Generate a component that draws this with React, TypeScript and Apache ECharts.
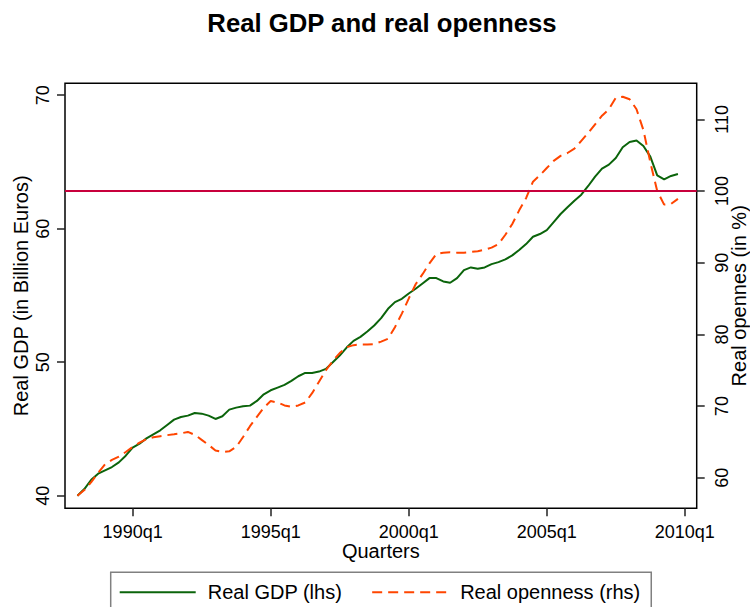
import React, { useEffect, useRef } from "react";
import * as echarts from "echarts";

const startYear = 1988; // first quarter: 1988q1
const gdp = [
  40.0, 40.5, 41.2, 41.65, 41.9, 42.15, 42.5, 43.0, 43.6, 43.9,
  44.3, 44.6, 44.9, 45.3, 45.7, 45.9, 46.0, 46.2, 46.15, 46.0,
  45.75, 45.95, 46.45, 46.6, 46.7, 46.75, 47.1, 47.6, 47.9, 48.1,
  48.3, 48.6, 48.95, 49.2, 49.2, 49.3, 49.5, 50.0, 50.5, 51.1,
  51.6, 51.9, 52.3, 52.75, 53.3, 54.0, 54.5, 54.75, 55.15, 55.5,
  55.9, 56.3, 56.3, 56.05, 55.95, 56.3, 56.9, 57.1, 57.0, 57.1,
  57.35, 57.5, 57.7, 58.0, 58.4, 58.85, 59.4, 59.6, 59.9, 60.5,
  61.1, 61.6, 62.1, 62.55, 63.2, 63.9, 64.5, 64.8, 65.3, 66.1,
  66.5, 66.6, 66.2, 65.4, 64.0, 63.7, 63.95, 64.1,
];
const openness = [
  57.5, 58.3, 59.4, 60.7, 61.9, 62.5, 62.95, 63.6, 64.3, 64.9,
  65.4, 65.65, 65.8, 65.95, 66.07, 66.2, 66.4, 66.0, 65.3, 64.6,
  63.8, 63.6, 63.7, 64.3, 65.7, 67.2, 68.5, 69.8, 70.7, 70.5,
  70.1, 69.9, 70.1, 70.5, 71.8, 73.4, 75.0, 76.3, 77.4, 78.2,
  78.5, 78.6, 78.6, 78.65, 79.0, 79.4, 81.0, 82.9, 85.0, 87.0,
  88.4, 89.9, 91.2, 91.4, 91.45, 91.4, 91.4, 91.5, 91.6, 91.8,
  92.1, 92.6, 93.9, 95.4, 97.3, 99.0, 101.3, 102.2, 103.2, 104.2,
  104.9, 105.3, 105.9, 107.0, 108.1, 109.3, 110.5, 111.4, 113.0, 113.15,
  112.8, 111.4, 108.5, 104.0, 100.0, 98.1, 98.2, 98.9,
];
const xTicks = [1990, 1995, 2000, 2005, 2010];
const leftTicks = [40, 50, 60, 70];
const rightTicks = [60, 70, 80, 90, 100, 110];
const refLine = 100;

const FONT = "'Liberation Sans', Arial, Helvetica, sans-serif";

export default function App() {
  const ref = useRef<HTMLDivElement>(null);
  useEffect(() => {
    if (!ref.current) return;
    const chart = echarts.init(ref.current, null, { renderer: "svg" });
    const t = (i: number) => startYear + i / 4;
    const gdpData = gdp.map((v, i) => [t(i), v]);
    const openData = openness.map((v, i) => [t(i), v]);
    const tickStyle = { show: true, length: 8, inside: false, lineStyle: { color: "#222", width: 1.5 } };
    const option: any = {
      animation: false,
      backgroundColor: "#fff",
      textStyle: { fontFamily: FONT },
      title: {
        text: "Real GDP and real openness",
        left: 377,
        top: 5,
        textAlign: "center",
        textStyle: { fontFamily: FONT, fontSize: 25.7, fontWeight: "bold", color: "#000" },
      },
      grid: {
        left: 65,
        right: 53.3,
        top: 83.3,
        bottom: 98.7,
        containLabel: false,
        outerBoundsMode: "none",
        show: true,
        borderColor: "#000",
        borderWidth: 1.5,
        backgroundColor: "#fff",
      },
      legend: {
        left: 110.7,
        top: 572.3,
        orient: "horizontal",
        padding: [10, 11, 10, 8],
        itemGap: 29,
        itemWidth: 76,
        itemHeight: 20,
        borderColor: "#808080",
        borderWidth: 1.5,
        backgroundColor: "#fff",
        itemStyle: { opacity: 0 },
        textStyle: { fontFamily: FONT, fontSize: 20, color: "#000", padding: [0, 0, 0, 7] },
        data: ["Real GDP (lhs)", "Real openness (rhs)"],
      },
      xAxis: {
        type: "value",
        min: 1987.55,
        max: 2010.43,
        name: "Quarters",
        nameLocation: "middle",
        nameGap: 33,
        nameMoveOverlap: false,
        nameTextStyle: { fontFamily: FONT, fontSize: 20, color: "#000" },
        axisLine: { show: false },
        axisTick: { ...tickStyle, customValues: xTicks },
        axisLabel: {
          customValues: xTicks,
          margin: 15,
          fontFamily: FONT,
          fontSize: 18,
          color: "#000",
          formatter: (v: number) => `${v}q1`,
        },
        splitLine: { show: false },
      },
      yAxis: [
        {
          type: "value",
          position: "left",
          min: 39.06,
          max: 70.89,
          name: "Real GDP (in Billion Euros)",
          nameLocation: "middle",
          nameGap: 34,
          nameMoveOverlap: false,
          nameTextStyle: { fontFamily: FONT, fontSize: 20, color: "#000" },
          axisLine: { show: false },
          axisTick: { ...tickStyle, customValues: leftTicks },
          axisLabel: {
            customValues: leftTicks,
            rotate: 90,
            margin: 13,
            fontFamily: FONT,
            fontSize: 18,
            color: "#000",
          },
          splitLine: { show: false },
        },
        {
          type: "value",
          position: "right",
          min: 55.75,
          max: 115.02,
          name: "Real opennes (in %)",
          nameLocation: "middle",
          nameGap: 32,
          nameRotate: 90,
          nameMoveOverlap: false,
          nameTextStyle: { fontFamily: FONT, fontSize: 20, color: "#000" },
          axisLine: { show: false },
          axisTick: { ...tickStyle, customValues: rightTicks },
          axisLabel: {
            customValues: rightTicks,
            rotate: 90,
            margin: 16,
            fontFamily: FONT,
            fontSize: 18,
            color: "#000",
          },
          splitLine: { show: false },
        },
      ],
      series: [
        {
          name: "ref",
          type: "line",
          yAxisIndex: 1,
          data: [],
          silent: true,
          z: 1,
          markLine: {
            silent: true,
            symbol: ["none", "none"],
            label: { show: false },
            lineStyle: { color: "#c8003c", width: 2, type: "solid" },
            data: [{ yAxis: refLine }],
          },
        },
        {
          name: "Real GDP (lhs)",
          type: "line",
          yAxisIndex: 0,
          data: gdpData,
          symbol: "none",
          showSymbol: false,
          z: 3,
          lineStyle: { color: "#0b640b", width: 2 },
          itemStyle: { color: "#0b640b" },
        },
        {
          name: "Real openness (rhs)",
          type: "line",
          yAxisIndex: 1,
          data: openData,
          symbol: "none",
          showSymbol: false,
          z: 4,
          lineStyle: { color: "#ff4500", width: 2, type: [10, 6] },
          itemStyle: { color: "#ff4500" },
        },
      ],
    };
    chart.setOption(option);
    return () => chart.dispose();
  }, []);
  return (
    <div
      ref={ref}
      style={{ position: "absolute", left: 0, top: 0, width: 750, height: 607 }}
    />
  );
}
